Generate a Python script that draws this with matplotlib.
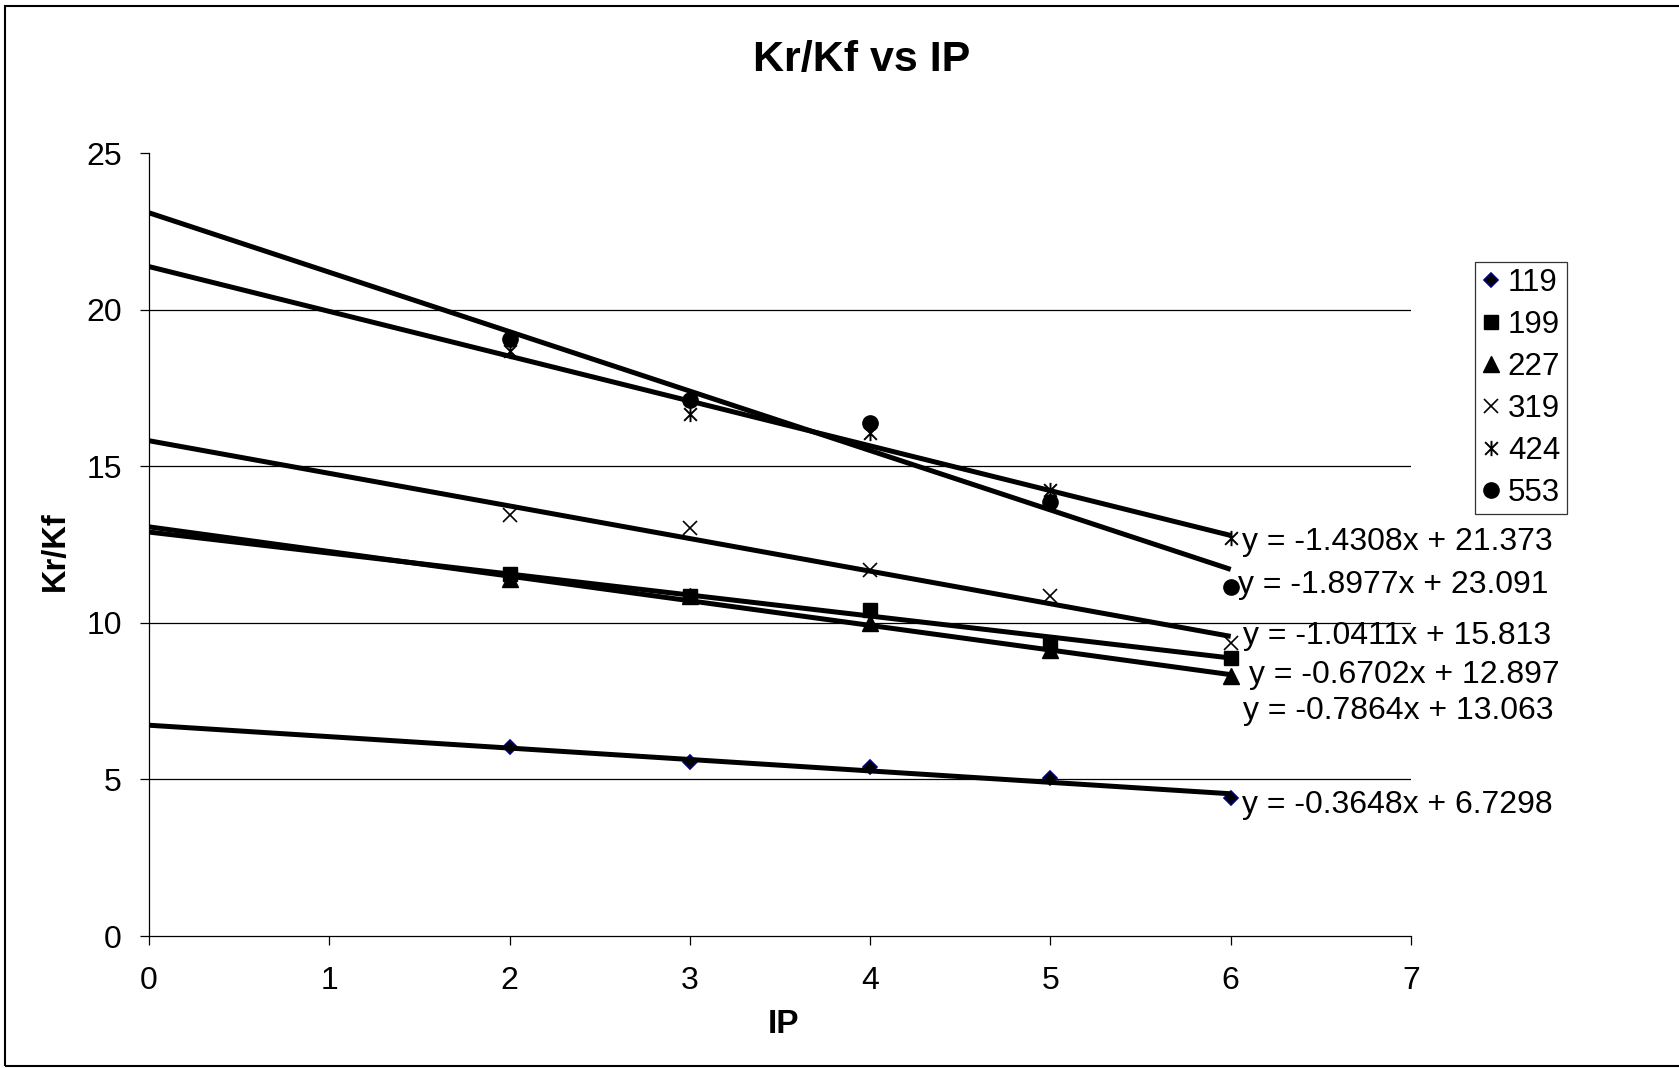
import numpy as np
import matplotlib.pyplot as plt
from matplotlib.path import Path
from matplotlib.patches import Rectangle

plt.rcParams['font.family'] = ['Liberation Sans', 'DejaVu Sans']

# IP values and measured Kr/Kf for each series
ip = [2, 3, 4, 5, 6]
names = ['119', '199', '227', '319', '424', '553']
kr_119 = [6.02, 5.54, 5.40, 5.06, 4.41]
kr_199 = [11.56, 10.84, 10.40, 9.37, 8.89]
kr_227 = [11.39, 10.84, 9.99, 9.13, 8.31]
kr_319 = [13.44, 13.03, 11.70, 10.84, 9.37]
kr_424 = [18.67, 16.66, 16.07, 14.23, 12.72]
kr_553 = [19.05, 17.10, 16.38, 13.85, 11.15]
series = [kr_119, kr_199, kr_227, kr_319, kr_424, kr_553]

# linear trendlines (slope, intercept)
slopes = [-0.3648, -0.6702, -0.7864, -1.0411, -1.4308, -1.8977]
intercepts = [6.7298, 12.897, 13.063, 15.813, 21.373, 23.091]
trend_x = [0, 6]

# where each equation is written (left edge, vertical centre)
eq_pos = [(6.06, 4.28), (6.10, 8.43), (6.07, 7.31), (6.07, 9.68), (6.06, 12.68), (6.04, 11.31)]

asterisk = Path([(-1, -1), (1, 1), (-1, 1), (1, -1), (0, -1.2), (0, 1.2)],
                [Path.MOVETO, Path.LINETO, Path.MOVETO, Path.LINETO, Path.MOVETO, Path.LINETO])
styles = [
    dict(marker='D', ms=7.5, mfc='black', mec='#000080', mew=1.2),
    dict(marker='s', ms=10, mfc='black', mec='black'),
    dict(marker='^', ms=11, mfc='black', mec='black'),
    dict(marker='x', ms=10, mec='black', mew=1.2),
    dict(marker=asterisk, ms=11, mec='black', mew=1.4, fillstyle='none'),
    dict(marker='o', ms=11, mfc='black', mec='black'),
]

W, H = 1679, 1068
fig = plt.figure(figsize=(W / 100, H / 100), dpi=100)
ax = fig.add_axes([149 / W, 1 - 936 / H, 1262 / W, 783 / H])

for y in [5, 10, 15, 20]:
    ax.axhline(y, color='black', lw=0.9, zorder=1)

for name, vals, st in zip(names, series, styles):
    ax.plot(ip, vals, linestyle='none', label=name, zorder=3, **st)

for m, b, (tx, ty) in zip(slopes, intercepts, eq_pos):
    xs = np.array(trend_x, dtype=float)
    ax.plot(xs, m * xs + b, color='black', lw=3.6, solid_capstyle='butt', zorder=4)
    ax.text(tx, ty, f'y = {m}x + {b}', fontsize=23, ha='left', va='center_baseline', zorder=5)

ax.set_xlim(0, 7)
ax.set_ylim(0, 25)
ax.set_xticks(range(0, 8))
ax.set_yticks(range(0, 26, 5))
ax.tick_params(direction='out', length=6.5, width=0.9, labelsize=23, pad=15)
ax.tick_params(axis='y', pad=13)
for side in ['top', 'right']:
    ax.spines[side].set_visible(False)
for side in ['left', 'bottom']:
    ax.spines[side].set_linewidth(0.9)

fig.text(862 / W, 1 - 56 / H, 'Kr/Kf vs IP', fontsize=31, fontweight='bold', ha='center', va='center_baseline')
fig.text(55 / W, 1 - 551 / H, 'Kr/Kf', fontsize=23.5, fontweight='bold', rotation=90, ha='center', va='center')
fig.text(783 / W, 1 - 1021 / H, 'IP', fontsize=24, fontweight='bold', ha='center', va='center_baseline')

leg = ax.legend(loc='upper left', bbox_to_anchor=(1475 / W, 1 - 262 / H), bbox_transform=fig.transFigure,
                borderaxespad=0, fontsize=22.5, frameon=True, fancybox=False, handlelength=0.6,
                handletextpad=0.25, labelspacing=0.38, borderpad=0.2, numpoints=1)
leg.get_frame().set_edgecolor('black')
leg.get_frame().set_linewidth(0.9)

# outer chart border
fig.add_artist(Rectangle((5 / W, 1 - 1066 / H), 1.1, 1060 / H, transform=fig.transFigure,
                         fill=False, edgecolor='black', lw=1.5))

fig.savefig('out.png', dpi=100)
